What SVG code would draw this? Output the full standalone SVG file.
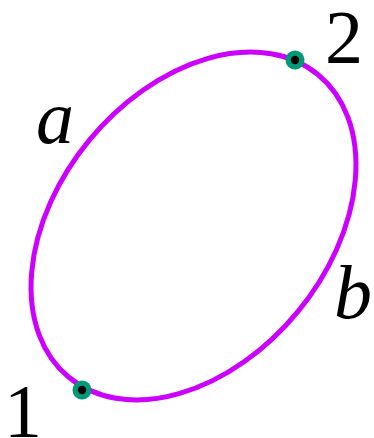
<svg xmlns="http://www.w3.org/2000/svg" width="374" height="438" viewBox="0 0 374 438">
<style>
.lbl{font-family:"Liberation Serif","Times New Roman",serif;font-size:76px;fill:#000;text-anchor:middle}
.it{font-style:italic}
.pt{fill:#009977}
.dot{fill:#000}
</style>
<rect width="374" height="438" fill="#fff"/>
<g id="connectors">
<ellipse cx="193.5" cy="226" rx="196" ry="135" transform="rotate(-50.5 193.5 226)" fill="none" stroke="#cc00ff" stroke-width="5"/>
</g>
<g id="node1"><circle class="pt" cx="82" cy="390" r="9.5"/><circle class="dot" cx="82" cy="390" r="4.2"/></g>
<g id="node2"><circle class="pt" cx="295" cy="60" r="9.5"/><circle class="dot" cx="295" cy="60" r="4.2"/></g>
<text class="lbl" x="23" y="437">1</text>
<text class="lbl" x="344" y="63">2</text>
<text class="lbl it" x="55" y="143">a</text>
<text class="lbl it" x="353" y="318">b</text>
</svg>
